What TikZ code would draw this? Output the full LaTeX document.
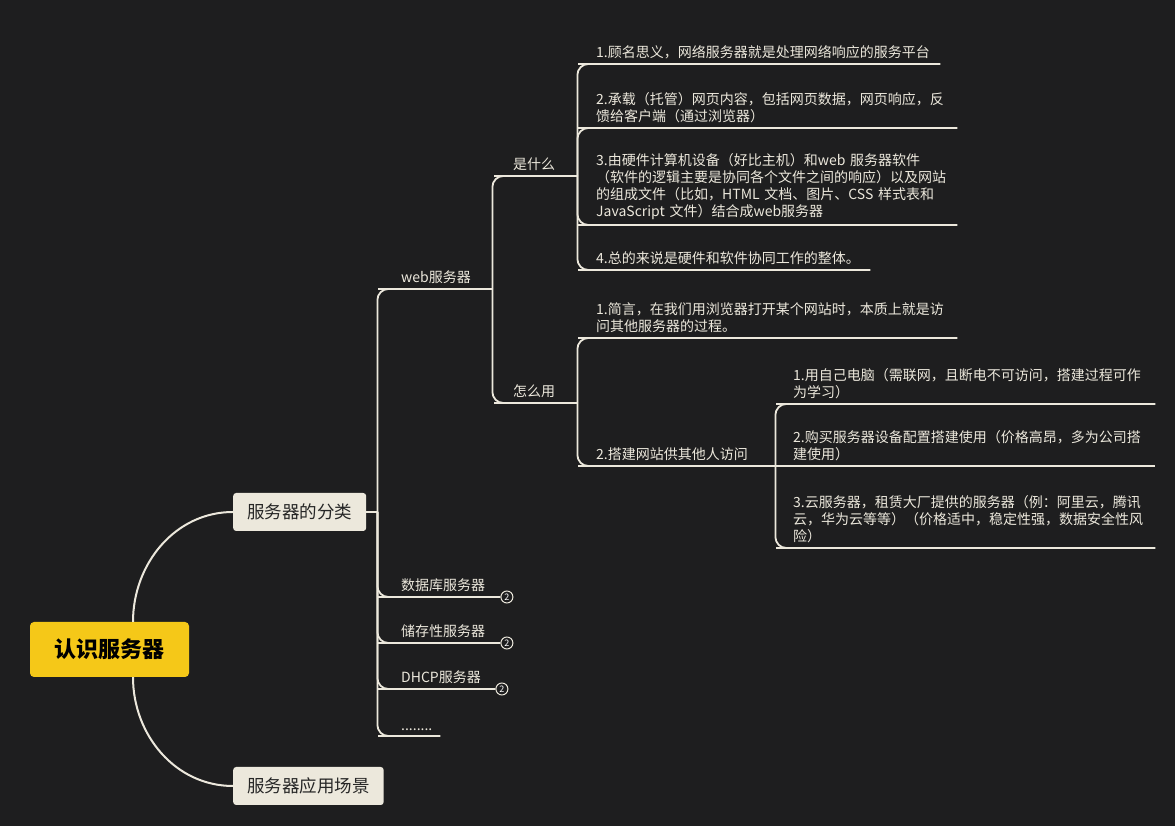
\documentclass[tikz,border=0pt]{standalone}
\usepackage{fontspec}
\setmainfont{Noto Sans CJK SC}
\usetikzlibrary{positioning}
\definecolor{bgdark}{RGB}{30,30,31}
\definecolor{cream}{RGB}{236,232,220}
\definecolor{rootyellow}{RGB}{245,200,24}
\definecolor{inkdark}{RGB}{38,38,38}

\tikzset{
  branch/.style={draw=cream, line width=1.8pt, rounded corners=11pt},
  topic/.style={anchor=south west, inner xsep=0pt, inner ysep=5pt, align=left, text=cream, font=\fontsize{14}{17}\selectfont},
  mainbox/.style={anchor=west, fill=cream, rounded corners=3pt, inner xsep=14pt, minimum height=38pt, text=inkdark, font=\fontsize{17.5}{20}\selectfont},
  badge/.style={circle, draw=cream, fill=bgdark, line width=1pt, inner sep=0pt, minimum size=12pt, text=white, font=\fontsize{9}{9}\selectfont},
}

\begin{document}
\begin{tikzpicture}[x=1pt, y=1pt]
  \fill[bgdark] (0,0) rectangle (1175,826);
  \node[fill=rootyellow, rounded corners=4pt, minimum width=159pt, minimum height=55pt, text=black, font=\bfseries\fontsize{22}{24}\selectfont] (root) at (109.5,176.5) {认识服务器};
  \node[mainbox] (cls) at (233,314) {服务器的分类};
  \node[mainbox] (scene) at (233,40) {服务器应用场景};
  \draw[branch, line width=2pt] ([xshift=23.5pt]root.north) to[out=90, in=180] (cls.west);
  \draw[branch, line width=2pt] ([xshift=23.5pt]root.south) to[out=-90, in=180] (scene.west);

  \node[topic, text width=91pt] (web) at (401,537) {web服务器};
  \node[topic, text width=99pt] (db) at (401,229) {数据库服务器};
  \node[topic, text width=99pt] (store) at (401,183) {储存性服务器};
  \node[topic, text width=94pt] (dhcp) at (401,137) {DHCP服务器};
  \node[topic, text width=39pt] (more) at (401,90) {........};
  \node[badge, right=0pt of db.south east] (dbn) {2};
  \node[badge, right=0pt of store.south east] (storen) {2};
  \node[badge, right=0pt of dhcp.south east] (dhcpn) {2};

  \node[topic, text width=64pt] (what) at (513,650) {是什么};
  \node[topic, text width=64pt] (how) at (513,423) {怎么用};

  \node[topic, text width=344pt] (w1) at (596,762) {1.顾名思义，网络服务器就是处理网络响应的服务平台};
  \node[topic, text width=361pt] (w2) at (596,698) {2.承载（托管）网页内容，包括网页数据，网页响应，反\\馈给客户端（通过浏览器）};
  \node[topic, text width=361pt] (w3) at (596,601) {3.由硬件计算机设备（好比主机）和web 服务器软件\\（软件的逻辑主要是协同各个文件之间的响应）以及网站\\的组成文件（比如，HTML 文档、图片、CSS 样式表和\\JavaScript 文件）结合成web服务器};
  \node[topic, text width=274pt] (w4) at (596,556) {4.总的来说是硬件和软件协同工作的整体。};

  \node[topic, text width=361pt] (h1) at (596,488) {1.简言，在我们用浏览器打开某个网站时，本质上就是访\\问其他服务器的过程。};
  \node[topic, text width=179pt] (h2) at (596,360) {2.搭建网站供其他人访问};

  \node[topic, text width=362pt] (g1) at (793,422) {1.用自己电脑（需联网，且断电不可访问，搭建过程可作\\为学习）};
  \node[topic, text width=362pt] (g2) at (793,360) {2.购买服务器设备配置搭建使用（价格高昂，多为公司搭\\建使用）};
  \node[topic, text width=362pt] (g3) at (793,278) {3.云服务器，租赁大厂提供的服务器（例：阿里云，腾讯\\云，华为云等等）（价格适中，稳定性强，数据安全性风\\险）};

  \coordinate (jc) at ([xshift=11pt]cls.east);
  \draw[branch] (cls.east) -- (jc);
  \foreach \n in {web,db,store,dhcp,more}
    \draw[branch] (jc) |- ([xshift=-12pt]\n.south west) -- (\n.south east);
  \foreach \n in {what,how}
    \draw[branch] (web.south east) |- ([xshift=-8pt]\n.south west) -- (\n.south east);
  \foreach \n in {w1,w2,w3,w4}
    \draw[branch] (what.south east) |- ([xshift=-7pt]\n.south west) -- (\n.south east);
  \foreach \n in {h1,h2}
    \draw[branch] (how.south east) |- ([xshift=-7pt]\n.south west) -- (\n.south east);
  \foreach \n in {g1,g3}
    \draw[branch] (h2.south east) |- ([xshift=-6pt]\n.south west) -- (\n.south east);
  \draw[branch] (h2.south east) -- (g2.south east);
\end{tikzpicture}
\end{document}
